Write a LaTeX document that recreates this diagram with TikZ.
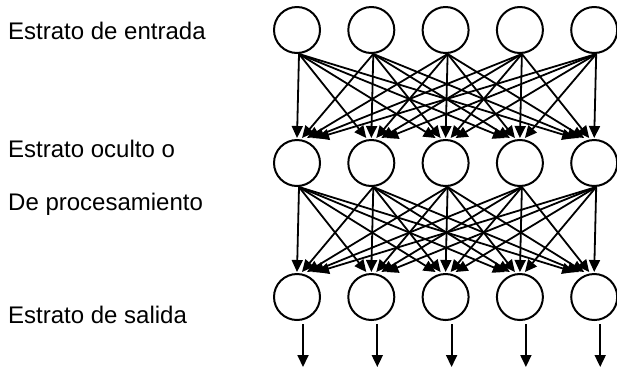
\documentclass[tikz,border=0pt]{standalone}
\usepackage{fontspec}
\setmainfont{Liberation Sans}
\usetikzlibrary{arrows.meta}
\begin{document}
\begin{tikzpicture}[x=1pt,y=-1pt,
  neuron/.style={circle,draw,line width=2pt,minimum size=46pt,inner sep=0pt},
  conn/.style={line width=1.8pt,-{Triangle[length=12pt,width=11pt]}},
  lbl/.style={anchor=base west,font=\fontsize{24}{26}\selectfont,inner sep=0pt}]
\useasboundingbox (0,0) rectangle (617,368);
% labels
\node[lbl] (l1) at (8,39) {Estrato de entrada};
\node[lbl] (l2) at (8,157) {Estrato oculto o};
\node[lbl] (l3) at (8,210) {De procesamiento};
\node[lbl] (l4) at (8,323) {Estrato de salida};
% neurons
\foreach \k in {1,...,5}{
  \pgfmathsetmacro{\cx}{297+74.3*(\k-1)}
  \node[neuron] (a\k) at (\cx,30) {};
  \node[neuron] (b\k) at (\cx,163) {};
  \node[neuron] (c\k) at (\cx,297) {};
  \coordinate (o\k) at (\cx+6,367);
}
% connections
\foreach \i in {1,...,5}{
  \foreach \j in {1,...,5}{
    \draw[conn] ([xshift=2pt]a\i.south) -- ([xshift={(\i-\j)*5pt},yshift=1pt]b\j.north);
    \draw[conn] ([xshift=2pt]b\i.south) -- ([xshift={(\i-\j)*5pt},yshift=1pt]c\j.north);
  }
}
% outputs
\foreach \k in {1,...,5}{
  \draw[conn] ([xshift=6pt,yshift=-3pt]c\k.south) -- (o\k);
}
\end{tikzpicture}
\end{document}
